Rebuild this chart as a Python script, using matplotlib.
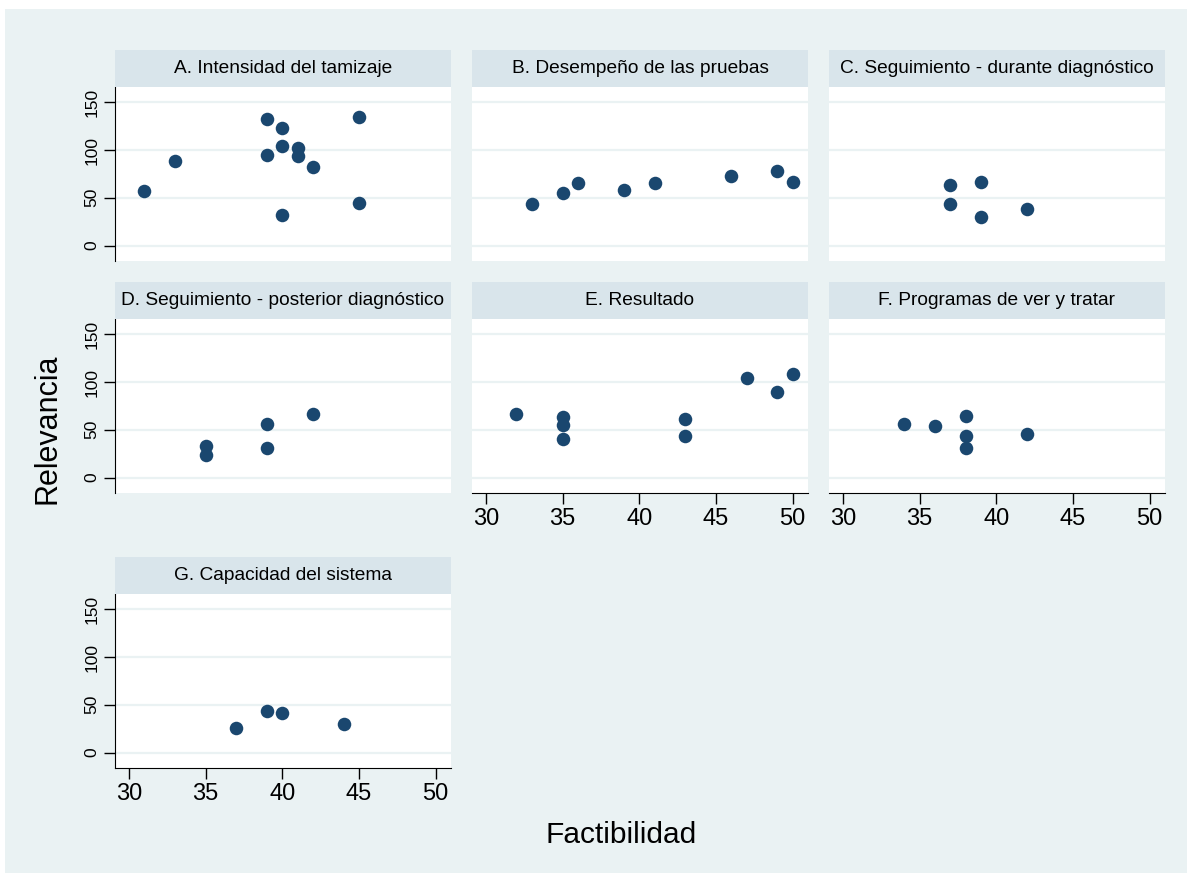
import matplotlib
matplotlib.use('Agg')
import matplotlib.pyplot as plt
from matplotlib.patches import Rectangle

plt.rcParams['font.family'] = ['Liberation Sans', 'DejaVu Sans']

# Factibilidad (x) / Relevancia (y) per panel
titles = [
    'A. Intensidad del tamizaje',
    'B. Desempeño de las pruebas',
    'C. Seguimiento - durante diagnóstico',
    'D. Seguimiento - posterior diagnóstico',
    'E. Resultado',
    'F. Programas de ver y tratar',
    'G. Capacidad del sistema',
]
a_x = [31, 33, 39, 39, 40, 40, 40, 41, 41, 42, 45, 45]
a_y = [57, 89, 133, 95, 123, 104, 32, 102, 94, 82, 135, 45]
b_x = [33, 35, 36, 39, 41, 46, 49, 50]
b_y = [43, 55, 65, 58, 65, 73, 78, 67]
c_x = [37, 37, 39, 39, 42]
c_y = [63, 44, 67, 30, 38]
d_x = [35, 35, 39, 39, 42]
d_y = [33, 24, 56, 31, 66]
e_x = [32, 35, 35, 35, 43, 43, 47, 49, 50]
e_y = [66, 63, 55, 40, 61, 43, 104, 90, 108]
f_x = [34, 36, 38, 38, 38, 42]
f_y = [56, 54, 64, 43, 31, 46]
g_x = [37, 39, 40, 44]
g_y = [26, 43, 41, 30]

xs = [a_x, b_x, c_x, d_x, e_x, f_x, g_x]
ys = [a_y, b_y, c_y, d_y, e_y, f_y, g_y]

xticks = [30, 35, 40, 45, 50]
yticks = [0, 50, 100, 150]

W, H = 1188, 875
bg = '#eaf2f3'
strip_c = '#d9e5eb'
navy = '#1a476f'

fig = plt.figure(figsize=(W / 100, H / 100), dpi=100)
fig.patch.set_facecolor('white')
fig.patches.append(Rectangle((5 / W, 2 / H), 1182 / W, 864 / H, transform=fig.transFigure,
                             facecolor=bg, edgecolor='none', zorder=-10))

col_left = [115, 472, 829]
row_top = [87, 319, 594]   # top of plot region (strip sits above)
pw, ph, sh = 336, 174, 37

for i, (title, x, y) in enumerate(zip(titles, xs, ys)):
    r, c = divmod(i, 3)
    left = col_left[c]
    top = row_top[r]
    ax = fig.add_axes([left / W, 1 - (top + ph) / H, pw / W, ph / H])
    ax.set_facecolor('white')
    ax.scatter(x, y, s=95, color=navy, zorder=3, linewidths=0)
    ax.set_xlim(29.1, 51.0)
    ax.set_ylim(-16.2, 166)
    ax.set_yticks(yticks)
    ax.set_xticks(xticks)
    for v in yticks:
        ax.axhline(v, color=bg, lw=1.6, zorder=1)
    for s in ax.spines.values():
        s.set_visible(False)
    show_y = c == 0
    show_x = (r == 2) or (r == 1 and c > 0)
    ax.spines['left'].set_visible(show_y)
    ax.spines['bottom'].set_visible(show_x)
    ax.tick_params(axis='y', left=show_y, labelleft=show_y, length=8, width=1,
                   labelsize=12.5, pad=3)
    ax.tick_params(axis='x', bottom=show_x, labelbottom=show_x, length=8, width=1,
                   labelsize=17, pad=3)
    for lab in ax.get_yticklabels():
        lab.set_rotation(90)
        lab.set_va('center')

    sax = fig.add_axes([left / W, 1 - top / H, pw / W, sh / H])
    sax.set_facecolor(strip_c)
    sax.set_xticks([])
    sax.set_yticks([])
    for s in sax.spines.values():
        s.set_visible(False)
    sax.text(0.5, 0.5, title, ha='center', va='center', fontsize=13.8,
             transform=sax.transAxes)

fig.text(48 / W, 1 - 429 / H, 'Relevancia', rotation=90, ha='center', va='center',
         fontsize=22)
fig.text(621 / W, 1 - 835 / H, 'Factibilidad', ha='center', va='center', fontsize=21.5)

fig.savefig('out.png', dpi=100, facecolor=fig.get_facecolor())
